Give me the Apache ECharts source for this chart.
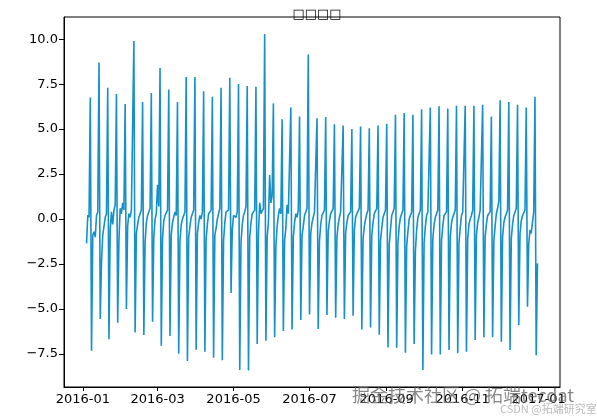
<!DOCTYPE html>
<html>
<head>
<meta charset="utf-8">
<script src="https://cdn.jsdelivr.net/npm/echarts@6/dist/echarts.min.js"></script>
<style>
  html, body { margin: 0; padding: 0; background: #fff; }
  #chart { width: 597px; height: 420px; }
</style>
</head>
<body>
<div id="chart"></div>
<script>
  // daily series, first day 2016-01-04; one row per week: peak, dip, then the quiet days
  const startDate = [2016, 0, 4]
  const values = [
    -1.35, 0.22, 0.1,
    6.75, -7.32, -0.9, -0.7, -1.0, 0.2, 0.4,
    8.7, -5.55, -2.4, -0.9, -1.0, 0.1, 0.3,
    7.3, -6.67, -0.6, 0.4, -0.3, 0.5, 0.8,
    6.95, -5.76, -1.2, 0.6, 0.3, 0.9, 0.5,
    6.4, -5.0, -0.4, 0.3, 0.1, 0.5, 0.6,
    9.9, -6.3, -0.8, -0.3, 0.1, 0.3, 0.5,
    6.5, -6.44, -1.3, -0.2, 0.2, 0.4, 0.6,
    7.0, -5.7, -1.0, 0.0, 0.3, 1.9, 0.7,
    8.4, -7.04, -1.1, -0.1, 0.2, 0.3, 0.5,
    7.2, -6.5, -0.9, -0.2, 0.1, 0.4, 0.2,
    6.5, -7.48, -1.2, -0.3, 0.0, 0.2, 0.4,
    7.9, -7.89, -1.0, -0.4, 0.1, 0.3, 0.5,
    7.9, -7.26, -0.8, -0.2, 0.2, 0.0, 0.4,
    7.1, -7.37, -1.1, -0.3, 0.3, 0.2, 0.5,
    6.8, -7.7, -0.9, -0.5, 0.0, 0.3, 0.6,
    7.3, -7.85, -1.2, -0.2, 0.4, 0.3, 0.5,
    7.85, -4.11, -0.6, 0.2, 0.3, 0.1, 0.4,
    7.5, -8.39, -1.3, -0.3, 0.2, 0.4, 0.7,
    7.4, -8.41, -1.0, -0.2, 0.3, 0.2, 0.5,
    7.35, -6.94, -0.8, 0.9, 0.3, 0.4, 0.6,
    10.28, -6.76, -1.0, -0.2, 2.45, 0.9, 1.3,
    6.43, -6.57, -1.5, -0.4, 0.2, 0.6, 0.3,
    5.55, -6.22, -1.2, -0.5, 0.8, 0.3, 0.4,
    6.2, -6.13, -1.0, -0.2, 0.3, 0.1, 0.5,
    5.7, -5.61, -0.9, -0.4, 0.2, 0.3, 0.6,
    9.15, -5.3, -0.8, -0.2, 0.1, 0.4, 0.3,
    5.6, -6.11, -1.2, -0.3, 0.2, 0.1, 0.5,
    5.67, -5.33, -0.7, -0.1, 0.3, 0.2, 0.6,
    5.27, -5.48, -1.0, -0.3, 0.1, 0.4, 0.5,
    5.2, -5.55, -0.8, -0.2, 0.2, 0.3, 0.4,
    5.0, -5.37, -0.6, 0.1, 0.3, 0.2, 0.6,
    5.15, -6.13, -1.1, -0.4, 0.0, 0.3, 0.5,
    5.05, -6.02, -0.9, -0.2, 0.3, 0.4, 0.6,
    5.2, -6.43, -1.2, -0.5, 0.1, 0.3, 0.5,
    5.3, -7.13, -1.4, -0.6, 0.2, 0.4, 0.6,
    5.8, -7.15, -1.3, -0.4, 0.1, 0.3, 0.5,
    5.9, -7.43, -1.5, -0.7, 0.0, 0.2, 0.4,
    5.8, -6.94, -1.8, -0.6, 0.1, 0.3, 0.5,
    6.1, -8.39, -1.3, -0.4, 0.2, 0.4, 0.3,
    6.2, -7.52, -1.1, -0.3, 0.1, 0.3, 0.5,
    6.27, -7.52, -1.2, -0.4, 0.2, 0.1, 0.4,
    6.15, -7.28, -1.0, -0.2, 0.1, 0.3, 0.5,
    6.3, -7.46, -1.3, -0.5, 0.2, 0.4, 0.3,
    6.3, -7.37, -1.1, -0.3, 0.0, 0.2, 0.5,
    6.3, -6.72, -0.9, -0.2, 0.1, 0.5, 0.6,
    6.35, -6.57, -1.0, -0.3, 0.2, 0.3, 0.4,
    5.7, -6.57, -1.2, -0.4, 0.3, 0.6, 1.0,
    6.6, -6.81, -1.0, -0.2, 0.1, 0.3, 0.5,
    6.5, -7.28, -1.1, -0.3, 0.2, 0.4, 0.6,
    6.35, -5.89, -0.8, -0.1, 0.2, 0.3, 0.5,
    6.2, -4.87, -1.4, -0.6, -0.8, -0.2, 0.4,
    6.8, -7.56, -2.46
  ]
  const xTickMonths = [[2016, 0], [2016, 2], [2016, 4], [2016, 6], [2016, 8], [2016, 10], [2017, 0]]
  const yTicks = [-7.5, -5.0, -2.5, 0.0, 2.5, 5.0, 7.5, 10.0]

  const dates = values.map((v, i) => new Date(startDate[0], startDate[1], startDate[2] + i).getTime())
  const seriesData = values.map((v, i) => [dates[i], v])
  const xTicks = xTickMonths.map(m => new Date(m[0], m[1], 1).getTime())

  const span = dates[dates.length - 1] - dates[0]
  const xMin = dates[0] - span * 0.05
  const xMax = dates[dates.length - 1] + span * 0.05
  const yMin = -9.33
  const yMax = 11.23

  const font = 'DejaVu Sans'
  const fmtMonth = v => {
    const d = new Date(v)
    return d.getFullYear() + '-' + String(d.getMonth() + 1).padStart(2, '0')
  }

  const chart = echarts.init(document.getElementById('chart'))
  chart.setOption({
    animation: false,
    title: {
      text: '□□□□',
      left: 312,
      top: 3,
      textAlign: 'center',
      textStyle: { fontFamily: font, fontSize: 13, fontWeight: 'normal', color: '#000' }
    },
    grid: {
      left: 64, right: 37, top: 17, bottom: 33,
      show: true, borderColor: '#000', borderWidth: 1
    },
    xAxis: {
      type: 'value',
      min: xMin,
      max: xMax,
      axisLine: { onZero: false, lineStyle: { color: '#000', width: 1 } },
      axisTick: { show: true, length: 4, lineStyle: { color: '#000' }, customValues: xTicks },
      splitLine: { show: false },
      axisLabel: {
        customValues: xTicks,
        formatter: v => fmtMonth(v),
        color: '#000', fontFamily: font, fontSize: 13, margin: 6
      }
    },
    yAxis: {
      type: 'value',
      min: yMin,
      max: yMax,
      axisLine: { show: true, onZero: false, lineStyle: { color: '#000', width: 1 } },
      axisTick: { show: true, length: 5, lineStyle: { color: '#000' }, customValues: yTicks },
      splitLine: { show: false },
      axisLabel: {
        customValues: yTicks,
        formatter: v => (v < 0 ? '\u2212' : '') + Math.abs(v).toFixed(1),
        color: '#000', fontFamily: font, fontSize: 13, margin: 6
      }
    },
    series: [
      {
        type: 'line',
        data: seriesData,
        showSymbol: false,
        lineStyle: { color: '#1690c8', width: 1.6 },
        itemStyle: { color: '#1690c8' }
      }
    ],
    graphic: [
      {
        type: 'text',
        left: 352,
        top: 386,
        z: 100,
        style: {
          text: '掘金技术社区 @ 拓端tecdat',
          fill: 'rgba(95,95,95,0.75)',
          font: '18px "Noto Sans CJK SC"'
        }
      },
      {
        type: 'text',
        left: 500,
        top: 403,
        z: 100,
        style: {
          text: 'CSDN @拓端研究室',
          fill: 'rgba(170,170,170,0.8)',
          font: '11px "Noto Sans CJK SC"'
        }
      }
    ]
  })
</script>
</body>
</html>
